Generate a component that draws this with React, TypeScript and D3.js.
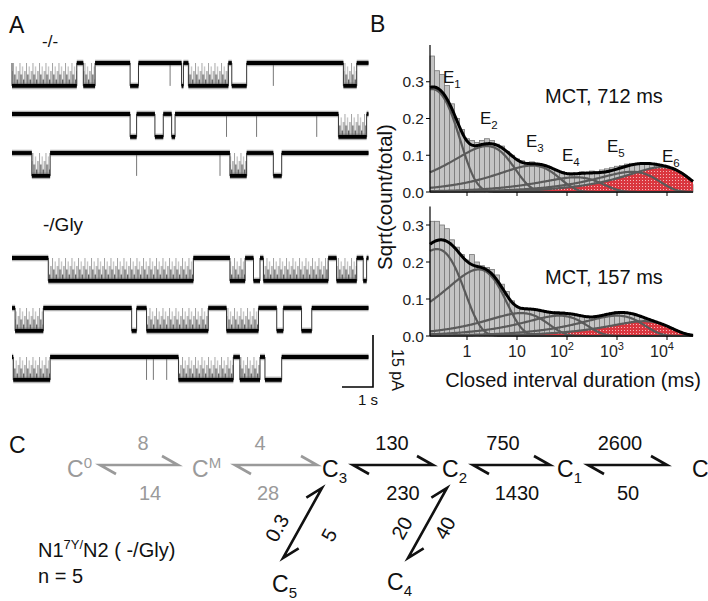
import React from 'react';
import * as d3 from 'd3';

const FONT = "'Liberation Sans', Arial, Helvetica, sans-serif";

// ---------- A: single-channel records ----------
const recordLength = 11.5; // s per row
const unitaryAmp = 6.6; // pA
const scaleBarSec = 1;
const scaleBarPA = 15;

// open periods [start s, end s, kind]; "b" = burst with brief closures, "o" = clean opening
const rowAA1 = [[0.0, 2.09, 'b'], [2.3, 2.68, 'b'], [3.81, 4.08, 'o'], [5.47, 5.53, 'o'], [5.69, 6.98, 'b'], [7.09, 7.57, 'o'], [10.69, 11.12, 'b']];
const rowAA2 = [[3.81, 4.02, 'o'], [4.61, 4.88, 'o'], [5.15, 5.26, 'o'], [10.53, 11.44, 'b']];
const rowAA3 = [[0.64, 1.23, 'b'], [7.03, 7.57, 'b'], [8.43, 8.7, 'o']];
const rowGly1 = [[1.17, 5.85, 'b'], [7.03, 7.52, 'b'], [7.79, 8.0, 'o'], [8.11, 10.2, 'b'], [10.47, 11.12, 'b'], [11.33, 11.44, 'o']];
const rowGly2 = [[0.1, 1.01, 'b'], [3.86, 4.02, 'o'], [4.34, 6.33, 'b'], [6.92, 7.95, 'b'], [8.54, 8.75, 'o'], [9.34, 9.67, 'o']];
const rowGly3 = [[0.04, 1.23, 'b'], [5.37, 7.14, 'b'], [7.35, 8.0, 'b'], [8.16, 8.7, 'o']];
// brief single openings (s)
const spikesAA1 = [5.1, 8.43];
const spikesAA2 = [6.92, 7.89, 9.83];
const spikesAA3 = [4.02, 6.71];
const spikesGly1: number[] = [];
const spikesGly2: number[] = [];
const spikesGly3 = [4.34, 4.56, 4.99];

// ---------- B: closed dwell histograms ----------
const binLog10 = [-0.7, -0.6, -0.5, -0.4, -0.3, -0.2, -0.1, 0.0, 0.1, 0.2,
  0.3, 0.4, 0.5, 0.6, 0.7, 0.8, 0.9, 1.0, 1.1, 1.2,
  1.3, 1.4, 1.5, 1.6, 1.7, 1.8, 1.9, 2.0, 2.1, 2.2,
  2.3, 2.4, 2.5, 2.6, 2.7, 2.8, 2.9, 3.0, 3.1, 3.2,
  3.3, 3.4, 3.5, 3.6, 3.7, 3.8, 3.9, 4.0, 4.1, 4.2,
  4.3, 4.4, 4.5];
const barsMCT712 = [0.37, 0.33, 0.32, 0.29, 0.24, 0.2, 0.17, 0.145, 0.14, 0.135,
  0.14, 0.145, 0.14, 0.13, 0.125, 0.11, 0.1, 0.09, 0.085, 0.08,
  0.082, 0.078, 0.074, 0.07, 0.064, 0.058, 0.056, 0.05, 0.052, 0.05,
  0.055, 0.053, 0.057, 0.055, 0.06, 0.063, 0.066, 0.07, 0.072, 0.076,
  0.078, 0.077, 0.079, 0.078, 0.075, 0.072, 0.067, 0.062, 0.055, 0.047,
  0.038, 0.03, 0.02];
const barsMCT157 = [0.31, 0.31, 0.3, 0.29, 0.26, 0.24, 0.22, 0.205, 0.22, 0.2,
  0.19, 0.185, 0.18, 0.165, 0.14, 0.12, 0.095, 0.08, 0.072, 0.07,
  0.072, 0.07, 0.068, 0.066, 0.064, 0.066, 0.065, 0.062, 0.06, 0.058,
  0.055, 0.054, 0.053, 0.055, 0.057, 0.06, 0.063, 0.066, 0.065, 0.063,
  0.06, 0.056, 0.05, 0.045, 0.04, 0.034, 0.028, 0.022, 0.016, 0.011,
  0.007, 0.004, 0.002];
// fitted exponential components: time constant (ms) and peak height on sqrt scale
const tauMCT712 = [0.2, 2.5, 20, 150, 2000, 8000];
const peakMCT712 = [0.28, 0.125, 0.072, 0.04, 0.055, 0.068];
const tauMCT157 = [0.25, 1.7, 12, 70, 1000, 3500];
const peakMCT157 = [0.235, 0.18, 0.062, 0.055, 0.055, 0.04];
const xTickValues = [1, 10, 100, 1000, 10000];
const yTickValues = [0, 0.1, 0.2, 0.3];

// ---------- C: kinetic scheme ----------
const chainStates = [['C', '0', 'sup'], ['C', 'M', 'sup'], ['C', '3', 'sub'], ['C', '2', 'sub'], ['C', '1', 'sub'], ['C', '', '']];
const ratesForward = ['8', '4', '130', '750', '2600'];
const ratesBackward = ['14', '28', '230', '1430', '50'];
const branchStates = [['C', '5'], ['C', '4']];
const branchRates = [['0.3', '5'], ['20', '40']];

const tScale = d3.scaleLinear().domain([0, recordLength]).range([12, 368.5]);
const iScale = d3.scaleLinear().domain([0, scaleBarPA]).range([0, 52]);
const rowBaseY = [63, 114, 153, 258, 308, 357];

function Trace({ events, spikes, y0, id }: any) {
  const yOpen = y0 + iScale(unitaryAmp);
  const pts: [number, number][] = [[tScale(0), y0]];
  const closed: [number, number][] = [];
  let start = 0;
  events.forEach(([a, b]: any) => {
    pts.push([tScale(a), y0], [tScale(a), yOpen], [tScale(b), yOpen], [tScale(b), y0]);
    closed.push([start, a]);
    start = b;
  });
  closed.push([start, recordLength]);
  pts.push([tScale(recordLength), y0]);
  const line = d3.line<[number, number]>().x(d => d[0]).y(d => d[1]);
  const h = yOpen - y0;
  return (
    <g>
      <defs>
        <pattern id={id} patternUnits="userSpaceOnUse" x={0} y={y0} width={6.5} height={h}>
          <line x1={0.5} x2={0.5} y1={h} y2={0} stroke="#8a8a8a" strokeWidth={0.8} />
          <line x1={1.8} x2={1.8} y1={h} y2={h * 0.5} stroke="#111" strokeWidth={0.9} />
          <line x1={3.1} x2={3.1} y1={h} y2={h * 0.15} stroke="#999" strokeWidth={0.8} />
          <line x1={4.3} x2={4.3} y1={h} y2={h * 0.72} stroke="#222" strokeWidth={0.9} />
          <line x1={5.5} x2={5.5} y1={h} y2={h * 0.35} stroke="#555" strokeWidth={0.8} />
        </pattern>
      </defs>
      {events.filter((e: any) => e[2] === 'b').map((e: any, i: number) => (
        <rect key={'b' + i} x={tScale(e[0])} y={y0} width={tScale(e[1]) - tScale(e[0])} height={h} fill={`url(#${id})`} />
      ))}
      <path d={line(pts) || ''} fill="none" stroke="#333" strokeWidth={1} />
      {spikes.map((s: number, i: number) => (
        <line key={'s' + i} x1={tScale(s)} x2={tScale(s)} y1={y0} y2={yOpen} stroke="#777" strokeWidth={1} />
      ))}
      {closed.map(([a, b], i) => (
        <g key={'c' + i}>
          <line x1={tScale(a)} x2={tScale(b)} y1={y0} y2={y0} stroke="#555" strokeWidth={6.5} opacity={0.45} />
          <line x1={tScale(a)} x2={tScale(b)} y1={y0} y2={y0} stroke="#000" strokeWidth={3.8} />
        </g>
      ))}
      {events.map((e: any, i: number) => (
        <g key={'o' + i}>
          <line x1={tScale(e[0])} x2={tScale(e[1])} y1={yOpen} y2={yOpen} stroke="#555" strokeWidth={6.5} opacity={0.45} />
          <line x1={tScale(e[0])} x2={tScale(e[1])} y1={yOpen} y2={yOpen} stroke="#000" strokeWidth={3.8} />
        </g>
      ))}
    </g>
  );
}

const xB = d3.scaleLog().domain([1, 1e4]).range([467, 667]);
const xLeft = 430;
const xRight = 693;

function Histogram({ bars, tau, peak, y, tickLabels, mct, mctY, eLabels }: any) {
  const lo = Math.log10(xB.invert(xLeft));
  const hi = Math.log10(xB.invert(xRight));
  const samples = d3.range(0, 301).map(i => Math.pow(10, lo + (hi - lo) * i / 300));
  const comp = (t: number, i: number) => peak[i] * Math.sqrt((t / tau[i]) * Math.exp(1 - t / tau[i]));
  const total = (t: number) => Math.sqrt(d3.sum(tau, (_: any, i: number) => comp(t, i) ** 2));
  const last = tau.length - 1;
  const red = d3.area<number>().x(t => xB(t)).y0(y(0)).y1(t => y(comp(t, last)));
  const y0 = y(0);
  const yMax = y.range()[1];
  return (
    <g fontFamily={FONT}>
      {binLog10.map((c, i) => {
        const x0 = Math.max(xLeft, xB(Math.pow(10, c - 0.05)));
        const x1 = Math.min(xRight, xB(Math.pow(10, c + 0.05)));
        return <rect key={i} x={x0} y={y(bars[i])} width={x1 - x0} height={y0 - y(bars[i])} fill="#c4c4c4" stroke="#777" strokeWidth={0.8} />;
      })}
      <path d={red(samples) || ''} fill="url(#redGrid)" opacity={0.95} />
      {tau.map((_: any, i: number) => (
        <path key={i} d={d3.line<number>().x(t => xB(t)).y(t => y(comp(t, i)))(samples) || ''} fill="none" stroke="#5a5a5a" strokeWidth={2.2} />
      ))}
      <path d={d3.line<number>().x(t => xB(t)).y(t => y(total(t)))(samples) || ''} fill="none" stroke="#000" strokeWidth={3} />
      {/* axes */}
      <line x1={xLeft} x2={xLeft} y1={y0} y2={yMax} stroke="#000" strokeWidth={1.2} />
      <line x1={xLeft} x2={xRight} y1={y0} y2={y0} stroke="#000" strokeWidth={1} />
      {yTickValues.map(v => (
        <g key={v}>
          <line x1={xLeft - 4} x2={xLeft} y1={y(v)} y2={y(v)} stroke="#000" />
          <text x={xLeft - 6} y={y(v) + 5.5} textAnchor="end" fontSize={15.5} fill="#222">{d3.format('.1f')(v)}</text>
        </g>
      ))}
      {xTickValues.map(v => (
        <g key={v}>
          <line x1={xB(v)} x2={xB(v)} y1={y0} y2={y0 + 4} stroke="#000" />
          {tickLabels && (v < 100 ? (
            <text x={xB(v)} y={y0 + 21} textAnchor="middle" fontSize={16} fill="#222">{v}</text>
          ) : (
            <text x={xB(v) - 5} y={y0 + 21} textAnchor="middle" fontSize={16} fill="#222">10
              <tspan fontSize={11} dy={-7}>{Math.round(Math.log10(v))}</tspan>
            </text>
          ))}
        </g>
      ))}
      <text x={545} y={mctY} fontSize={20} fill="#111">{mct}</text>
      {eLabels && eLabels.map(([x, yy]: any, i: number) => (
        <text key={i} x={x} y={yy} fontSize={17} fill="#111">E<tspan fontSize={11.5} dy={5}>{i + 1}</tspan></text>
      ))}
    </g>
  );
}

function Arrow({ p, q, color }: any) {
  const dx = q[0] - p[0], dy = q[1] - p[1];
  const L = Math.hypot(dx, dy);
  const u = [dx / L, dy / L];
  const n = [u[1], -u[0]];
  const bq = [q[0] - 16 * u[0] + 9 * n[0], q[1] - 16 * u[1] + 9 * n[1]];
  const bp = [p[0] + 16 * u[0] - 9 * n[0], p[1] + 16 * u[1] - 9 * n[1]];
  return (
    <path d={`M${bp[0]},${bp[1]}L${p[0]},${p[1]}L${q[0]},${q[1]}L${bq[0]},${bq[1]}`} fill="none" stroke={color} strokeWidth={2.6} strokeLinejoin="miter" />
  );
}

export default function App() {
  const rows = [
    [rowAA1, spikesAA1], [rowAA2, spikesAA2], [rowAA3, spikesAA3],
    [rowGly1, spikesGly1], [rowGly2, spikesGly2], [rowGly3, spikesGly3],
  ];
  const yTop = d3.scaleLinear().domain([0, 0.4]).range([192, 45]);
  const yBot = d3.scaleLinear().domain([0, 0.35]).range([336, 206.5]);

  const chainX = [67, 192, 322, 442, 557, 692];
  const arrowX = [[100, 178], [235, 317], [353, 433], [473, 550], [588, 667]];
  const fwdX = [143, 260, 392, 503, 620];
  const backX = [150, 268, 403, 517, 628];
  const diag = [[[283, 558], [322, 488]], [[408, 558], [447, 488]]];
  const diagLabels = [[[277, 528], [329, 535]], [[402, 528], [445, 528]]];
  const branchPos = [[272, 592], [387, 590]];
  const gray = '#9a9a9a';

  return (
    <svg width={708} height={601} style={{ position: 'absolute', left: 0, top: 0, background: '#fff' }} fontFamily={FONT}>
      <defs>
        <pattern id="redGrid" patternUnits="userSpaceOnUse" width={3} height={3}>
          <rect width={3} height={3} fill="#dc3039" />
          <rect width={1} height={1} fill="#f4b8bb" />
        </pattern>
      </defs>
      <rect width={708} height={601} fill="#fff" />

      {/* A */}
      <text x={9} y={33} fontSize={23} fill="#111">A</text>
      <text x={42} y={47} fontSize={17} fill="#111">-/-</text>
      <text x={43} y={231} fontSize={19} fill="#111">-/Gly</text>
      {rows.map(([ev, sp], i) => (
        <Trace key={i} events={ev} spikes={sp} y0={rowBaseY[i]} id={'flick' + i} />
      ))}
      <path d={`M${373 - (tScale(scaleBarSec) - tScale(0))},387H373V${387 - iScale(scaleBarPA)}`} fill="none" stroke="#000" strokeWidth={1.6} />
      <text x={368} y={405} textAnchor="middle" fontSize={15} fill="#111">{scaleBarSec} s</text>
      <text transform="translate(392,370) rotate(90)" textAnchor="middle" fontSize={16} fill="#111">{scaleBarPA} pA</text>

      {/* B */}
      <text x={370} y={32} fontSize={23} fill="#111">B</text>
      <Histogram bars={barsMCT712} tau={tauMCT712} peak={peakMCT712} y={yTop} tickLabels={false} mct="MCT, 712 ms" mctY={103}
        eLabels={[[443, 83], [480, 124], [526, 147], [562, 161], [607, 152], [662, 162]]} />
      <Histogram bars={barsMCT157} tau={tauMCT157} peak={peakMCT157} y={yBot} tickLabels={true} mct="MCT, 157 ms" mctY={284} />
      <text transform="translate(392,197) rotate(-90)" textAnchor="middle" fontSize={20.5} fill="#111">Sqrt(count/total)</text>
      <text x={573} y={387} textAnchor="middle" fontSize={20} fill="#111">Closed interval duration (ms)</text>

      {/* C */}
      <text x={9} y={453} fontSize={23} fill="#111">C</text>
      {chainStates.map(([c, s, kind], i) => (
        <text key={i} x={chainX[i]} y={477} fontSize={23} fill={i < 2 ? gray : '#111'}>{c}
          {s && <tspan fontSize={15} dy={kind === 'sup' ? -9 : 6}>{s}</tspan>}
        </text>
      ))}
      {arrowX.map(([a, b], i) => (
        <g key={i}>
          <Arrow p={[a, 465]} q={[b, 465]} color={i < 2 ? gray : '#111'} />
          <text x={fwdX[i]} y={450} textAnchor="middle" fontSize={20} fill={i < 2 ? gray : '#111'}>{ratesForward[i]}</text>
          <text x={backX[i]} y={500} textAnchor="middle" fontSize={20} fill={i < 2 ? gray : '#111'}>{ratesBackward[i]}</text>
        </g>
      ))}
      {diag.map(([p, q], i) => (
        <g key={i}>
          <Arrow p={p} q={q} color="#111" />
          {branchRates[i].map((r, j) => (
            <text key={j} transform={`translate(${diagLabels[i][j][0]},${diagLabels[i][j][1]}) rotate(-61)`} textAnchor="middle" dy={7} fontSize={20} fill="#111">{r}</text>
          ))}
          <text x={branchPos[i][0]} y={branchPos[i][1]} fontSize={23} fill="#111">{branchStates[i][0]}
            <tspan fontSize={15} dy={6}>{branchStates[i][1]}</tspan>
          </text>
        </g>
      ))}
      <text x={38} y={557} fontSize={20} fill="#111">N1<tspan fontSize={13} dy={-8}>7Y/</tspan><tspan dy={8}>N2 ( -/Gly)</tspan></text>
      <text x={38} y={583} fontSize={20} fill="#111">n = 5</text>
    </svg>
  );
}
